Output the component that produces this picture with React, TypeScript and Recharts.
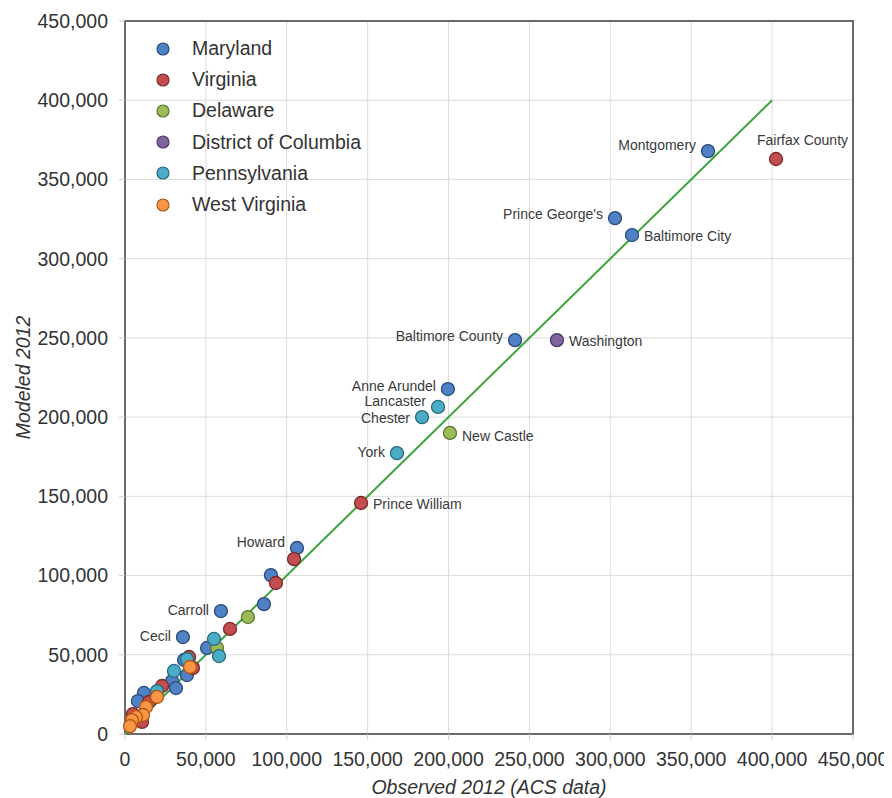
import React from 'react';
import {
  ScatterChart,
  Scatter,
  XAxis,
  YAxis,
  CartesianGrid,
  ReferenceLine,
  ReferenceArea,
  Legend,
} from 'recharts';

type Pt = { x: number; y: number; name?: string };

const maryland: Pt[] = [
  { x: 360400, y: 367900, name: 'Montgomery' },
  { x: 302900, y: 325600, name: "Prince George's" },
  { x: 313400, y: 314900, name: 'Baltimore City' },
  { x: 241100, y: 248600, name: 'Baltimore County' },
  { x: 199600, y: 217700, name: 'Anne Arundel' },
  { x: 106300, y: 117400, name: 'Howard' },
  { x: 90200, y: 100300 },
  { x: 85900, y: 82000 },
  { x: 59300, y: 77600, name: 'Carroll' },
  { x: 35800, y: 61200, name: 'Cecil' },
  { x: 50700, y: 54300 },
  { x: 36500, y: 46700 },
  { x: 38300, y: 37200 },
  { x: 29100, y: 33400 },
  { x: 31500, y: 29000 },
  { x: 11700, y: 25900 },
  { x: 8000, y: 20800 },
];

const virginia: Pt[] = [
  { x: 402400, y: 362900, name: 'Fairfax County' },
  { x: 145900, y: 145800, name: 'Prince William' },
  { x: 104500, y: 110400 },
  { x: 93300, y: 95300 },
  { x: 64900, y: 66300 },
  { x: 39600, y: 48600 },
  { x: 42000, y: 41700 },
  { x: 22900, y: 30300 },
  { x: 14800, y: 20200 },
  { x: 9300, y: 10700 },
  { x: 4900, y: 12600 },
  { x: 10500, y: 7600 },
];

const delaware: Pt[] = [
  { x: 200900, y: 190000, name: 'New Castle' },
  { x: 76000, y: 73800 },
  { x: 56900, y: 54300 },
];

const dc: Pt[] = [{ x: 267000, y: 248600, name: 'Washington' }];

const pennsylvania: Pt[] = [
  { x: 193500, y: 206400, name: 'Lancaster' },
  { x: 183600, y: 200000, name: 'Chester' },
  { x: 168100, y: 177300, name: 'York' },
  { x: 55000, y: 60000 },
  { x: 58100, y: 49200 },
  { x: 38300, y: 47300 },
  { x: 30300, y: 39800 },
  { x: 19800, y: 27100 },
];

const westVirginia: Pt[] = [
  { x: 40200, y: 42300 },
  { x: 19800, y: 23400 },
  { x: 13000, y: 17000 },
  { x: 11100, y: 12000 },
  { x: 6800, y: 10700 },
  { x: 4300, y: 8800 },
  { x: 3100, y: 5000 },
];

const ticks = [0, 50000, 100000, 150000, 200000, 250000, 300000, 350000, 400000, 450000];
const fitLine = [
  { x: 0, y: 0 },
  { x: 400000, y: 400000 },
];

const labelSide: Record<string, 'left' | 'right' | 'above'> = {
  Montgomery: 'left',
  "Prince George's": 'left',
  'Baltimore City': 'right',
  'Baltimore County': 'left',
  'Anne Arundel': 'left',
  Howard: 'left',
  Carroll: 'left',
  Cecil: 'left',
  'Fairfax County': 'above',
  'Prince William': 'right',
  'New Castle': 'right',
  Washington: 'right',
  Lancaster: 'left',
  Chester: 'left',
  York: 'left',
};

const labelDy: Record<string, number> = {
  Montgomery: -5,
  "Prince George's": -3,
  'Baltimore County': -3,
  'Anne Arundel': -2,
  Lancaster: -5,
  Chester: 2,
  Howard: -5,
  'New Castle': 2,
};

const FONT = '"Liberation Sans", Arial, Helvetica, sans-serif';

const series = [
  { name: 'Maryland', data: maryland, fill: '#4f81c4', stroke: '#2b4c7a' },
  { name: 'Virginia', data: virginia, fill: '#c44d4f', stroke: '#7a2a2b' },
  { name: 'Delaware', data: delaware, fill: '#9bbb59', stroke: '#5d7530' },
  { name: 'District of Columbia', data: dc, fill: '#8064a2', stroke: '#4b3a63' },
  { name: 'Pennsylvania', data: pennsylvania, fill: '#4bacc6', stroke: '#276a7d' },
  { name: 'West Virginia', data: westVirginia, fill: '#f79646', stroke: '#b2570e' },
];

const makeShape = (fill: string, stroke: string) => (props: any) => {
  const { cx, cy, payload } = props;
  const name: string | undefined = payload?.name;
  let label = null;
  if (name) {
    const side = labelSide[name] || 'right';
    const dy = labelDy[name] || 0;
    let tx = cx + 12;
    let ty = cy + 1 + dy;
    let anchor: 'start' | 'end' = 'start';
    if (side === 'left') {
      tx = cx - 12;
      ty = cy - 1 + dy;
      anchor = 'end';
    } else if (side === 'above') {
      tx = cx - 19;
      ty = cy - 19;
      anchor = 'start';
    }
    label = (
      <text
        x={tx}
        y={ty}
        textAnchor={anchor}
        dominantBaseline="central"
        fontFamily={FONT}
        fontSize={14}
        fill="#3a3a3a"
      >
        {name}
      </text>
    );
  }
  return (
    <g>
      <circle cx={cx} cy={cy} r={6.5} fill={fill} stroke={stroke} strokeWidth={1.3} />
      {label}
    </g>
  );
};

const renderLegend = () => (
  <div style={{ fontFamily: FONT, fontSize: 19.5, color: '#333' }}>
    {series.map((s) => (
      <div key={s.name} style={{ display: 'flex', alignItems: 'center', height: 31.2 }}>
        <svg width={14} height={14} style={{ display: 'block' }}>
          <circle cx={7} cy={7} r={6} fill={s.fill} stroke={s.stroke} strokeWidth={1.2} />
        </svg>
        <span style={{ marginLeft: 22, whiteSpace: 'nowrap' }}>{s.name}</span>
      </div>
    ))}
  </div>
);

const fmt = (v: number) => v.toLocaleString('en-US');

export default function App() {
  return (
    <div style={{ width: 884, height: 790, background: '#fff' }}>
      <ScatterChart
        width={884}
        height={790}
        margin={{ top: 13, right: 39, left: 0, bottom: 0 }}
      >
        <CartesianGrid stroke="#dcdcdc" strokeWidth={1} />
        <XAxis
          type="number"
          dataKey="x"
          domain={[0, 450000]}
          ticks={ticks}
          tickFormatter={fmt}
          height={64}
          tickSize={6}
          tickMargin={12}
          axisLine={false}
          tickLine={{ stroke: '#cfcfcf' }}
          tick={{ fontFamily: FONT, fontSize: 19.5, fill: '#333' }}
          interval={0}
          label={{
            value: 'Observed 2012 (ACS data)',
            position: 'insideBottom',
            offset: 4,
            style: { fontFamily: FONT, fontSize: 19.5, fontStyle: 'italic', fill: '#333' },
          }}
        />
        <YAxis
          type="number"
          dataKey="y"
          domain={[0, 450000]}
          ticks={ticks}
          tickFormatter={fmt}
          width={117}
          tickSize={6}
          tickMargin={11}
          axisLine={false}
          tickLine={{ stroke: '#cfcfcf' }}
          tick={{ fontFamily: FONT, fontSize: 19.5, fill: '#333' }}
          interval={0}
          label={{
            value: 'Modeled 2012',
            angle: -90,
            position: 'insideLeft',
            offset: 15,
            style: {
              fontFamily: FONT,
              fontSize: 19.5,
              fontStyle: 'italic',
              fill: '#333',
              textAnchor: 'middle',
            },
          }}
        />
        <ReferenceArea
          x1={0}
          x2={450000}
          y1={0}
          y2={450000}
          fill="none"
          stroke="#6a6a6a"
          strokeWidth={2}
          fillOpacity={0}
        />
        <ReferenceLine segment={fitLine} stroke="#3ca33a" strokeWidth={2} />
        <Legend
          layout="vertical"
          align="center"
          verticalAlign="middle"
          content={renderLegend}
          wrapperStyle={{ left: 148, top: 25, width: 'auto' }}
        />
        {series.map((s) => (
          <Scatter
            key={s.name}
            name={s.name}
            data={s.data}
            fill={s.fill}
            isAnimationActive={false}
            shape={makeShape(s.fill, s.stroke)}
          />
        ))}
      </ScatterChart>
    </div>
  );
}
